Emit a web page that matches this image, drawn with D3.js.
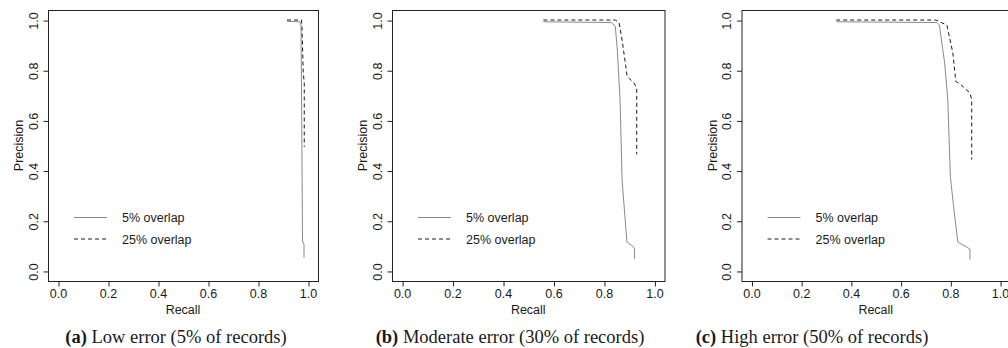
<!DOCTYPE html>
<html>
<head>
<meta charset="utf-8">
<script src="https://cdn.jsdelivr.net/npm/d3@7"></script>
<style>
  body { margin: 0; background: #fff; overflow: hidden; }
  svg { display: block; }
  text { font-family: "Liberation Sans", Arial, sans-serif; font-size: 12.5px; fill: #1a1a1a; }
  .cap { font-family: "Liberation Serif", "Times New Roman", serif; font-size: 18.5px; }
</style>
</head>
<body>
<svg id="chart" width="1008" height="348"></svg>
<script>
// ticks + labels
const tickValues = [0, 0.2, 0.4, 0.6, 0.8, 1.0];
const seriesLabels = ["5% overlap", "25% overlap"];
const captionTags = ["(a)", "(b)", "(c)"];
const captionTexts = [" Low error (5% of records)", " Moderate error (30% of records)", " High error (50% of records)"];

// [recall, precision]
const low5 = [[0.916, 0.995], [0.968, 0.993], [0.972, 0.98], [0.975, 0.6], [0.978, 0.119], [0.984, 0.106], [0.984, 0.052]];
const low25 = [[0.916, 1.0], [0.974, 1.0], [0.976, 0.97], [0.981, 0.79], [0.985, 0.75], [0.985, 0.495]];

const mod5 = [[0.56, 0.993], [0.83, 0.99], [0.845, 0.975], [0.853, 0.88], [0.864, 0.68], [0.872, 0.36], [0.891, 0.116], [0.915, 0.098], [0.921, 0.09], [0.921, 0.048]];
const mod25 = [[0.56, 1.0], [0.845, 1.0], [0.86, 0.99], [0.872, 0.92], [0.886, 0.82], [0.892, 0.775], [0.918, 0.75], [0.93, 0.73], [0.93, 0.465]];

const high5 = [[0.341, 0.993], [0.746, 0.99], [0.756, 0.98], [0.777, 0.83], [0.79, 0.68], [0.8, 0.377], [0.813, 0.258], [0.83, 0.115], [0.87, 0.093], [0.879, 0.086], [0.879, 0.046]];
const high25 = [[0.341, 1.0], [0.742, 1.0], [0.786, 0.98], [0.81, 0.87], [0.822, 0.755], [0.843, 0.742], [0.879, 0.709], [0.886, 0.682], [0.886, 0.444]];

const svg = d3.select("#chart");

// plot boxes (R style, 4% padding on each axis)
const panels = [
  { left: 48, right: 318, capX: 176, solid: low5, dashed: low25 },
  { left: 392, right: 664.5, capX: 510, solid: mod5, dashed: mod25 },
  { left: 741.5, right: 1010, capX: 812, solid: high5, dashed: high25 },
];
const plotTop = 10, plotBottom = 281;

const y = d3.scaleLinear().domain([-0.04, 1.04]).range([plotBottom, plotTop]);
const fmt = d3.format(".1f");

panels.forEach(function (p, i) {
  const x = d3.scaleLinear().domain([-0.04, 1.04]).range([p.left, p.right]);
  const g = svg.append("g");

  const line = d3.line().x(d => x(d[0])).y(d => y(d[1]));

  g.append("path").datum(p.solid)
    .attr("d", line).attr("fill", "none")
    .attr("stroke", "#8a8a8a").attr("stroke-width", 1);

  g.append("path").datum(p.dashed)
    .attr("d", line).attr("fill", "none")
    .attr("stroke", "#1a1a1a").attr("stroke-width", 1)
    .attr("stroke-dasharray", "4,3");

  // box
  g.append("rect")
    .attr("x", p.left + 0.5).attr("y", plotTop + 0.5)
    .attr("width", p.right - p.left).attr("height", plotBottom - plotTop)
    .attr("fill", "none").attr("stroke", "#222").attr("stroke-width", 1);

  // x axis
  const xa = g.append("g")
    .attr("transform", "translate(0," + (plotBottom + 0.5) + ")")
    .call(d3.axisBottom(x).tickValues(tickValues).tickFormat(fmt).tickSize(5).tickSizeOuter(0));
  xa.select(".domain").remove();
  xa.selectAll("line").attr("stroke", "#222").attr("transform", "translate(0.5,0)");
  xa.selectAll("text").attr("dy", null).attr("y", 16).attr("font-size", null)
    .attr("fill", "#1a1a1a");
  xa.attr("font-family", null).attr("font-size", null);

  // y axis, labels rotated like base R
  const ya = g.append("g")
    .attr("transform", "translate(" + (p.left + 0.5) + ",0)")
    .call(d3.axisLeft(y).tickValues(tickValues).tickFormat(fmt).tickSize(5).tickSizeOuter(0));
  ya.select(".domain").remove();
  ya.selectAll("line").attr("stroke", "#222").attr("transform", "translate(0,0.5)");
  ya.selectAll("text")
    .attr("x", null).attr("dy", null).attr("font-size", null)
    .attr("text-anchor", "middle")
    .attr("transform", "translate(-11,0.5) rotate(-90)")
    .attr("fill", "#1a1a1a");
  ya.attr("font-family", null).attr("font-size", null);

  g.append("text")
    .attr("text-anchor", "middle")
    .attr("transform", "translate(" + (p.left - 25) + "," + (plotTop + plotBottom) / 2 + ") rotate(-90)")
    .text("Precision");

  g.append("text")
    .attr("x", (p.left + p.right) / 2).attr("y", 314)
    .attr("text-anchor", "middle")
    .text("Recall");

  // legend
  const legY = [217.5, 239];
  [["#8a8a8a", null], ["#1a1a1a", "4,3"]].forEach(function (st, k) {
    g.append("line")
      .attr("x1", p.left + 26).attr("x2", p.left + 59)
      .attr("y1", legY[k]).attr("y2", legY[k])
      .attr("stroke", st[0]).attr("stroke-width", 1)
      .attr("stroke-dasharray", st[1]);
    g.append("text")
      .attr("x", p.left + 74).attr("y", legY[k] + 4.5)
      .text(seriesLabels[k]);
  });

  // caption
  const cap = svg.append("text").attr("class", "cap")
    .attr("x", p.capX).attr("y", 343).attr("text-anchor", "middle");
  cap.append("tspan").attr("font-weight", "bold").text(captionTags[i]);
  cap.append("tspan").text(captionTexts[i]);
});
</script>
</body>
</html>
